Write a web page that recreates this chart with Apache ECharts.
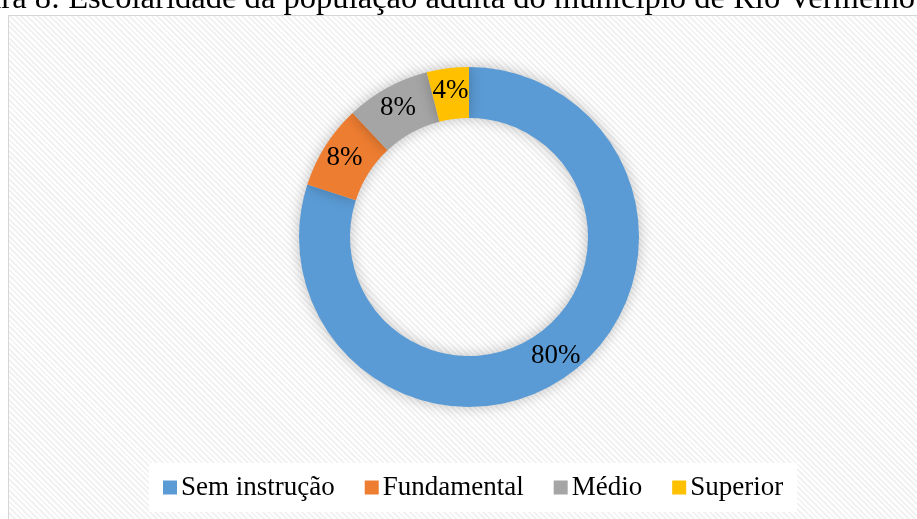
<!DOCTYPE html>
<html>
<head>
<meta charset="utf-8">
<script src="https://cdn.jsdelivr.net/npm/echarts@6/dist/echarts.min.js"></script>
<style>
	html, body { margin: 0; padding: 0; background: #fff; }
	#wrap { position: relative; width: 917px; height: 519px; overflow: hidden; }
	/* moldura com textura listrada leve */
	#frame {
		position: absolute; left: 8px; top: 15px; width: 930px; height: 520px;
		border: 1px solid #d6d6d6; box-sizing: border-box;
		background: repeating-linear-gradient(45deg, #ffffff 0px, #ffffff 2px, #f2f2f2 2px, #f2f2f2 4px);
	}
	#main { position: absolute; left: 0; top: 0; width: 917px; height: 519px; }
</style>
</head>
<body>
<div id="wrap">
	<div id="frame"></div>
	<div id="main"></div>
</div>
<script>
	// dados
	var categorias = ['Sem instrução', 'Fundamental', 'Médio', 'Superior'];
	var valores = [80, 8, 8, 4];
	var cores = ['#5B9BD5', '#ED7D31', '#A5A5A5', '#FFC000'];
	var titulo = 'Figura 8: Escolaridade da população adulta do município de Rio Vermelho';

	var myChart = echarts.init(document.getElementById('main'));
	var serif = '"Liberation Serif", "DejaVu Serif", serif';

	myChart.setOption({
		animation: false,
		color: cores,
		graphic: [{
			type: 'text',
			style: {
				x: 915,
				y: 15,
				text: titulo,
				align: 'right',
				verticalAlign: 'bottom',
				font: '32.6px ' + serif,
				lineHeight: 32,
				fill: '#000'
			}
		}],
		legend: {
			data: categorias,
			bottom: 7,
			left: 149,
			itemWidth: 14,
			itemHeight: 14,
			itemGap: 30,
			icon: 'rect',
			backgroundColor: '#fff',
			padding: [11, 14],
			textStyle: {
				fontFamily: serif,
				fontSize: 27,
				color: '#000',
				padding: [0, 0, 0, -1]
			}
		},
		series: [{
			type: 'pie',
			center: [469, 237],
			radius: [119, 170],
			startAngle: 90,
			clockwise: true,
			avoidLabelOverlap: false,
			itemStyle: {
				shadowBlur: 14,
				shadowColor: 'rgba(0,0,0,0.25)'
			},
			label: {
				show: true,
				position: 'inside',
				formatter: '{d}%',
				fontFamily: serif,
				fontSize: 27,
				color: '#000'
			},
			labelLine: { show: false },
			emphasis: { disabled: true },
			data: categorias.map(function (c, i) {
				return { name: c, value: valores[i] };
			})
		}]
	});
</script>
</body>
</html>
